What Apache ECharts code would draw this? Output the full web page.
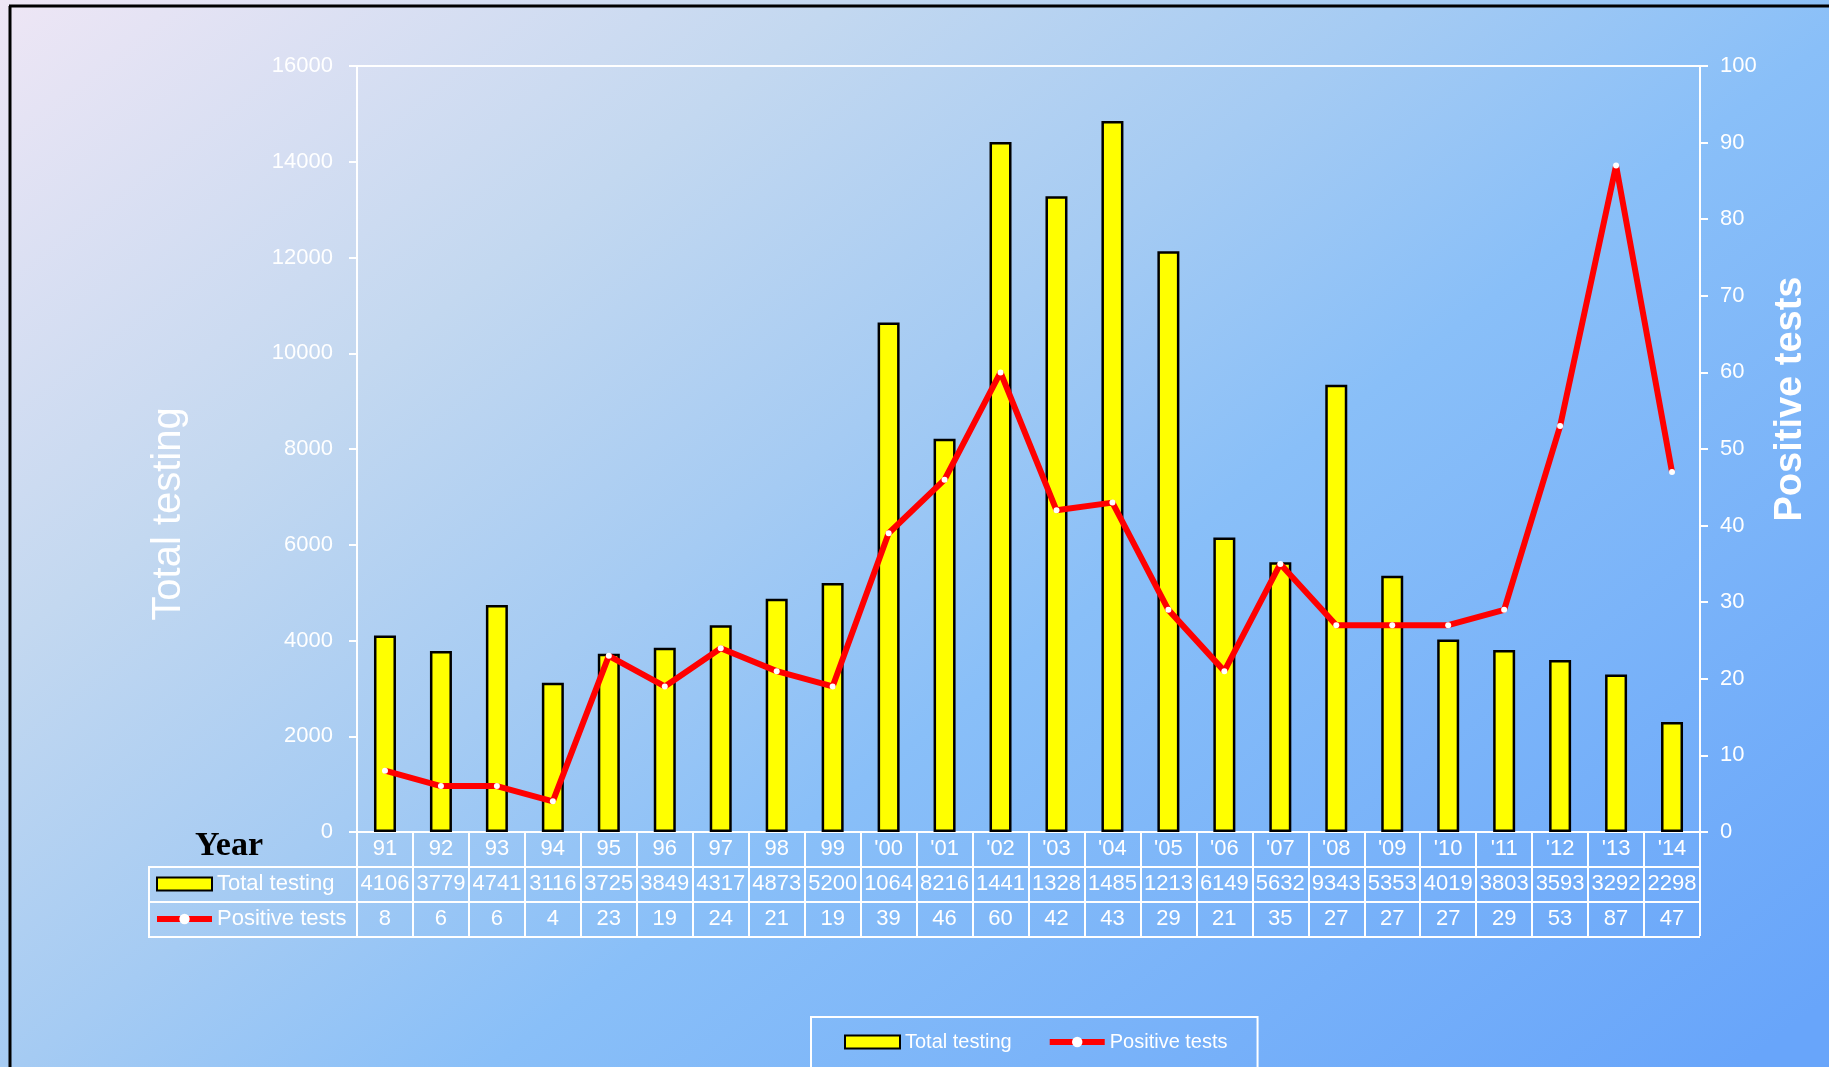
<!DOCTYPE html>
<html>
<head>
<meta charset="utf-8">
<script src="https://cdn.jsdelivr.net/npm/echarts@6/dist/echarts.min.js"></script>
<style>
  html, body { margin: 0; padding: 0; }
  #chart { width: 1829px; height: 1067px; }
</style>
</head>
<body>
<div id="chart"></div>
<script>
// Year labels (x categories)
const years = ['91', '92', '93', '94', '95', '96', '97', '98', '99',
  "'00", "'01", "'02", "'03", "'04", "'05", "'06", "'07", "'08", "'09",
  "'10", "'11", "'12", "'13", "'14"];

// Total number of tests per year (left axis)
const totalTesting = [4106, 3779, 4741, 3116, 3725, 3849, 4317, 4873, 5200,
  10640, 8216, 14410, 13280, 14850, 12130, 6149, 5632, 9343, 5353,
  4019, 3803, 3593, 3292, 2298];

// Positive tests per year (right axis)
const positiveTests = [8, 6, 6, 4, 23, 19, 24, 21, 19,
  39, 46, 60, 42, 43, 29, 21, 35, 27, 27,
  27, 29, 53, 87, 47];

// Axis tick values
const leftTicks = { min: 0, max: 16000, interval: 2000 };
const rightTicks = { min: 0, max: 100, interval: 10 };

const FONT = "'Liberation Sans', Arial, sans-serif";
const WHITE = '#ffffff';
const LINE_W = 6;

// plot layout
const G = { left: 357, right: 129, top: 66, bottom: 235 };
const plotRight = 1829 - G.right;
const tableLeft = 149;
const rowLines = [867, 902, 937];

const chart = echarts.init(document.getElementById('chart'), null, { renderer: 'canvas' });

const tableLines = rowLines.map(y => ({
  type: 'line',
  shape: { x1: tableLeft, y1: y, x2: plotRight, y2: y },
  style: { stroke: WHITE, lineWidth: 2 },
  silent: true
}));

const legendItems = [
  { name: 'Total testing', icon: 'rect' },
  { name: 'Positive tests', lineStyle: { width: LINE_W } }
];

const option = {
  animation: false,
  backgroundColor: {
    type: 'linear', x: 0, y: 0, x2: 1159, y2: 1513, global: true,
    colorStops: [
      { offset: 0, color: '#EEE6F5' },
      { offset: 0.27, color: '#C3D8F0' },
      { offset: 0.45, color: '#A5CBF3' },
      { offset: 0.6, color: '#89BFF8' },
      { offset: 1, color: '#68A5FA' }
    ]
  },
  textStyle: { fontFamily: FONT },
  grid: {
    left: G.left, right: G.right, top: G.top, bottom: G.bottom,
    show: true, borderColor: WHITE, borderWidth: 2, backgroundColor: 'transparent'
  },
  legend: [
    {
      data: legendItems,
      left: 811, top: 1017,
      padding: [15, 30, 40, 33],
      borderColor: WHITE, borderWidth: 2,
      itemWidth: 55, itemHeight: 13, itemGap: 35,
      textStyle: { color: WHITE, fontSize: 20, fontFamily: FONT }
    },
    {
      data: legendItems,
      orient: 'vertical',
      left: 154, top: 873,
      padding: 0,
      itemWidth: 55, itemHeight: 13, itemGap: 13,
      textStyle: { color: WHITE, fontSize: 22, fontFamily: FONT }
    }
  ],
  xAxis: [
    {
      type: 'category', data: years, position: 'bottom',
      axisLine: { lineStyle: { color: WHITE, width: 2 } },
      axisTick: { show: true, interval: 0, length: 104, lineStyle: { color: WHITE, width: 2 } },
      axisLabel: { interval: 0, color: WHITE, fontSize: 22, margin: 17, verticalAlign: 'middle' }
    },
    {
      type: 'category', data: years, position: 'bottom',
      axisLine: { show: false }, axisTick: { show: false },
      axisLabel: {
        interval: 0, color: WHITE, fontSize: 22, margin: 52, verticalAlign: 'middle',
        width: 55, overflow: 'truncate', ellipsis: '',
        formatter: (v, i) => String(totalTesting[i])
      }
    },
    {
      type: 'category', data: years, position: 'bottom',
      axisLine: { show: false }, axisTick: { show: false },
      axisLabel: {
        interval: 0, color: WHITE, fontSize: 22, margin: 87, verticalAlign: 'middle',
        formatter: (v, i) => String(positiveTests[i])
      }
    }
  ],
  yAxis: [
    {
      type: 'value', position: 'left',
      min: leftTicks.min, max: leftTicks.max, interval: leftTicks.interval,
      axisLine: { show: true, lineStyle: { color: WHITE, width: 2 } },
      axisTick: { show: true, length: 8, lineStyle: { color: WHITE, width: 2 } },
      axisLabel: { color: WHITE, fontSize: 22, margin: 24, formatter: v => String(v) },
      splitLine: { show: false }
    },
    {
      type: 'value', position: 'right',
      min: rightTicks.min, max: rightTicks.max, interval: rightTicks.interval,
      axisLine: { show: true, lineStyle: { color: WHITE, width: 2 } },
      axisTick: { show: true, length: 8, lineStyle: { color: WHITE, width: 2 } },
      axisLabel: { color: WHITE, fontSize: 22, margin: 20, formatter: v => String(v) },
      splitLine: { show: false }
    }
  ],
  series: [
    {
      name: 'Total testing', type: 'bar',
      xAxisIndex: 0, yAxisIndex: 0,
      data: totalTesting,
      barWidth: 22,
      itemStyle: { color: '#FFFF00', borderColor: '#000000', borderWidth: 2.5 }
    },
    {
      name: 'Positive tests', type: 'line',
      xAxisIndex: 0, yAxisIndex: 1,
      data: positiveTests,
      symbol: 'circle', symbolSize: 6,
      itemStyle: { color: WHITE },
      lineStyle: { color: '#FF0000', width: LINE_W },
      z: 3
    }
  ],
  graphic: [
    // frame on the left and top edges
    { type: 'line', shape: { x1: 10, y1: 6, x2: 10, y2: 1067 }, style: { stroke: '#000', lineWidth: 3 }, silent: true },
    { type: 'line', shape: { x1: 9, y1: 6, x2: 1829, y2: 6 }, style: { stroke: '#000', lineWidth: 3 }, silent: true },
    // data table rules
    ...tableLines,
    { type: 'line', shape: { x1: tableLeft, y1: 866, x2: tableLeft, y2: 938 }, style: { stroke: WHITE, lineWidth: 2 }, silent: true },
    // axis titles
    {
      type: 'text', x: 169, y: 514, rotation: Math.PI / 2,
      style: { text: 'Total testing', fill: WHITE, font: '40px ' + FONT, align: 'center', verticalAlign: 'middle' },
      silent: true
    },
    {
      type: 'text', x: 1791, y: 399, rotation: Math.PI / 2,
      style: { text: 'Positive tests', fill: WHITE, font: 'bold 38px ' + FONT, align: 'center', verticalAlign: 'middle' },
      silent: true
    },
    {
      type: 'text', x: 229, y: 846,
      style: { text: 'Year', fill: '#000', font: "bold 34px 'Liberation Serif', 'Times New Roman', serif", align: 'center', verticalAlign: 'middle' },
      silent: true
    }
  ]
};

chart.setOption(option);
</script>
</body>
</html>
